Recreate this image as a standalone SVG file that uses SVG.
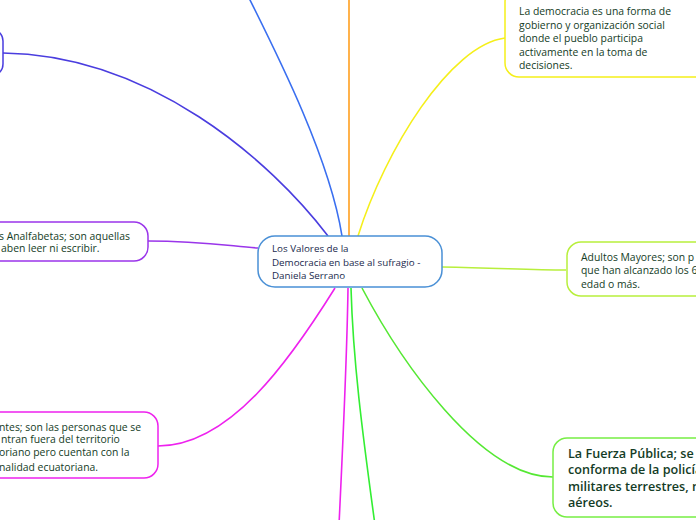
<svg xmlns="http://www.w3.org/2000/svg" width="696" height="520" viewBox="0 0 696 520">
<style>
.n{fill:#fff;stroke-width:1.5}
.c{fill:none;stroke-width:1.6}
.t{font-family:"Open Sans","Noto Sans",sans-serif;fill:#143c26;font-weight:500}
.tc{font-family:"Open Sans","Noto Sans",sans-serif;fill:#1a2a4e;font-size:9.8px;font-weight:500}
.s{font-size:10.4px}
.b{font-size:12.6px;font-weight:600}
</style>
<rect width="696" height="520" fill="#fff"/>
<g id="connectors">
<path class="c" stroke="#4a3ddf" d="M3,53 C150,55 270,160 328,236"/>
<path class="c" stroke="#3a6ff0" d="M249,-2 C280,60 330,160 342,236"/>
<path class="c" stroke="#ff9f1f" d="M349,0 L349,236"/>
<path class="c" stroke="#f5ef1a" d="M505,38 C450,45 385,150 358,236"/>
<path class="c" stroke="#9a35ea" d="M148,241 C200,241 230,246 258,248"/>
<path class="c" stroke="#b8ef3c" d="M442,267 C500,268 530,270 566,270"/>
<path class="c" stroke="#ee22ee" d="M335,288 C290,360 230,446 158,446"/>
<path class="c" stroke="#ee22ee" d="M348,288 C347,360 343,440 339,525"/>
<path class="c" stroke="#33ee33" d="M351,288 C353,360 362,430 375,525"/>
<path class="c" stroke="#55e833" d="M362,288 C400,360 480,477 553,477"/>
</g>
<g id="center">
<rect class="n" x="258" y="236" width="184" height="51" rx="17" stroke="#4a90d6"/>
<text class="tc" x="272"><tspan x="272" y="252">Los Valores de la</tspan><tspan x="272" y="266">Democracia en base al sufragio -</tspan><tspan x="272" y="279">Daniela Serrano</tspan></text>
</g>
<g id="node-topleft">
<rect class="n" x="-200" y="29" width="203" height="47" rx="12" stroke="#4a3ddf"/>
</g>
<g id="node-democracia">
<rect class="n" x="505" y="-12" width="260" height="89" rx="14" stroke="#f5ef1a"/>
<text class="t s"><tspan x="519" y="15">La democracia es una forma de</tspan><tspan x="519" y="29">gobierno y organización social</tspan><tspan x="519" y="42">donde el pueblo participa</tspan><tspan x="519" y="56">activamente en la toma de</tspan><tspan x="519" y="69">decisiones.</tspan></text>
</g>
<g id="node-analfabetas">
<rect class="n" x="-150" y="222" width="298" height="39" rx="14" stroke="#9a35ea"/>
<text class="t s"><tspan x="-1" y="240">s Analfabetas; son aquellas</tspan><tspan x="1" y="252">aben leer ni escribir.</tspan></text>
</g>
<g id="node-adultos">
<rect class="n" x="567" y="242" width="200" height="54" rx="14" stroke="#b8ef3c"/>
<text class="t s"><tspan x="581" y="261">Adultos Mayores; son p</tspan><tspan x="581" y="274">que han alcanzado los 6</tspan><tspan x="581" y="288">edad o más.</tspan></text>
</g>
<g id="node-migrantes">
<rect class="n" x="-150" y="412" width="308" height="66" rx="14" stroke="#ee22ee"/>
<text class="t s"><tspan x="-1" y="431">ntes; son las personas que se</tspan><tspan x="1" y="443">ntran fuera del territorio</tspan><tspan x="-1" y="456">oriano pero cuentan con la</tspan><tspan x="-1" y="471">nalidad ecuatoriana.</tspan></text>
</g>
<g id="node-fuerza">
<rect class="n" x="553" y="438" width="200" height="79" rx="14" stroke="#77ee44"/>
<text class="t b"><tspan x="568" y="458">La Fuerza Pública; se</tspan><tspan x="568" y="474">conforma de la policía</tspan><tspan x="568" y="491">militares terrestres, na</tspan><tspan x="568" y="507">aéreos.</tspan></text>
</g>
</svg>
